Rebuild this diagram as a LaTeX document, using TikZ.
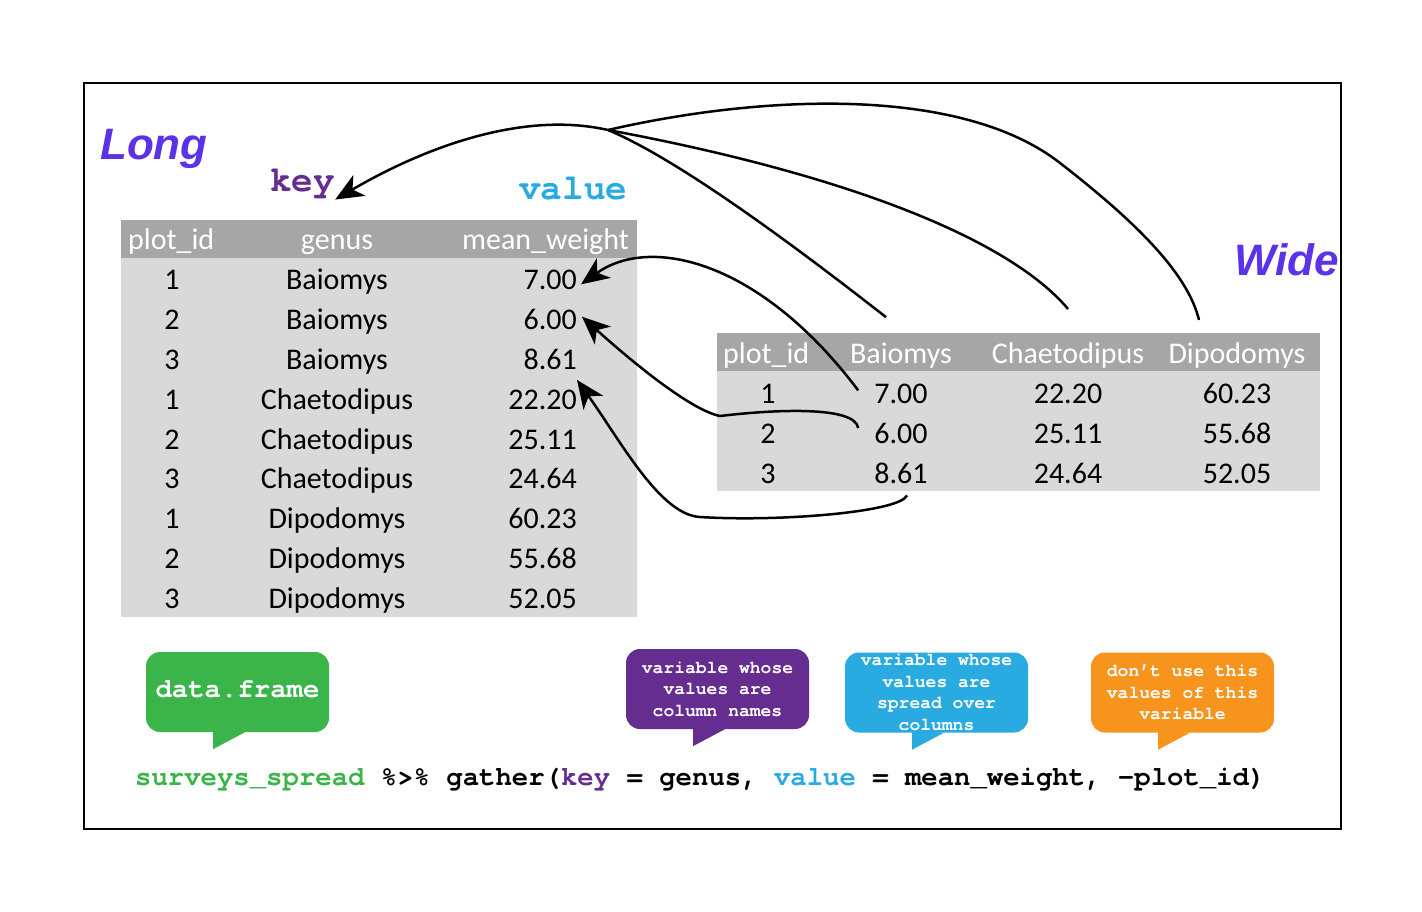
\documentclass[tikz,border=0pt]{standalone}
\usepackage{fontspec}
\setmainfont{Carlito}
\newfontfamily\arialfont{Liberation Sans}
\newfontfamily\courfont{texgyrecursor}[Extension=.otf, UprightFont=*-regular, BoldFont=*-bold]
\usetikzlibrary{arrows.meta}
\definecolor{titlepurple}{RGB}{91,50,232}
\definecolor{keypurple}{RGB}{102,45,145}
\definecolor{valueblue}{RGB}{41,171,226}
\definecolor{dfgreen}{RGB}{59,181,74}
\definecolor{droporange}{RGB}{247,148,29}
\definecolor{headgray}{RGB}{166,166,166}
\definecolor{bodygray}{RGB}{217,217,217}

\begin{document}
\begin{tikzpicture}[x=1pt, y=-1pt,
    >={Stealth[length=28pt,width=24pt,inset=8pt]},
    cell/.style={inner sep=0, anchor=base, font=\fontsize{30}{36}\selectfont},
    headcell/.style={cell, text=white},
    bigname/.style={inner sep=0, anchor=base west, text=titlepurple, font=\arialfont\bfseries\itshape\fontsize{44}{52}\selectfont},
    codeword/.style={inner sep=0, anchor=base west, font=\courfont\bfseries\fontsize{36}{40}\selectfont},
    bubble/.style={fill=#1, text=white, rounded corners=14pt, minimum width=183pt, minimum height=80pt, inner sep=0, align=center, font=\courfont\bfseries\fontsize{18}{21.5}\selectfont},
    link/.style={line width=2.5pt}]
        \useasboundingbox (0,0) rectangle (1422,912);
        \draw[line width=2pt] (84,83) rectangle (1341,829);
        % the two tables
        \fill[headgray] (121,220) rectangle (637,258);
        \fill[bodygray] (121,258) rectangle (637,617);
        \fill[headgray] (717,333) rectangle (1320,371);
        \fill[bodygray] (717,371) rectangle (1320,491);
        \node[bigname] (long) at (100,160) {Long};
        \node[bigname] (wide) at (1234,276) {Wide};
        \node[codeword, text=keypurple] (key) at (270,192) {key};
        \node[codeword, text=valueblue] (value) at (519,200) {value};
        % long table
        \node[headcell, anchor=base west] (lhp) at (128,250) {plot\_id};
        \node[headcell] (lhg) at (337,250) {genus};
        \node[headcell, anchor=base east] (lhv) at (629,250) {mean\_weight};
        \foreach \p/\g/\v [count=\i] in {1/Baiomys/7.00, 2/Baiomys/6.00, 3/Baiomys/8.61, 1/Chaetodipus/22.20, 2/Chaetodipus/25.11, 3/Chaetodipus/24.64, 1/Dipodomys/60.23, 2/Dipodomys/55.68, 3/Dipodomys/52.05} {
          \node[cell] (lp\i) at (172, {290+39.75*(\i-1)}) {\p};
          \node[cell] (lg\i) at (337, {290+39.75*(\i-1)}) {\g};
          \node[cell, anchor=base east] (lv\i) at (577, {290+39.75*(\i-1)}) {\v};
        }
        % wide table
        \node[headcell, anchor=base west] (whp) at (723,363) {plot\_id};
        \node[headcell] (whb) at (901,363) {Baiomys};
        \node[headcell] (whc) at (1068,363) {Chaetodipus};
        \node[headcell] (whd) at (1237,363) {Dipodomys};
        \foreach \b/\c/\d [count=\i] in {7.00/22.20/60.23, 6.00/25.11/55.68, 8.61/24.64/52.05} {
          \node[cell] (wp\i) at (768, {363+40*\i}) {\i};
          \node[cell] (wb\i) at (901, {363+40*\i}) {\b};
          \node[cell] (wc\i) at (1068, {363+40*\i}) {\c};
          \node[cell] (wd\i) at (1237, {363+40*\i}) {\d};
        }
        % column names go to key
        \coordinate (hub) at (608,130);
        \draw[link, ->] (hub) .. controls (520,110) and (420,150) .. (key.south east);
        \draw[link] ([shift={(-15,-25)}]whb.north) .. controls (800,250) and (680,160) .. (hub);
        \draw[link] ([shift={(0,-33)}]whc.north) .. controls (1010,240) and (850,175) .. (hub);
        \draw[link] ([shift={(-38,-22)}]whd.north) .. controls (1188,275) and (1140,225) .. (1060,163) .. controls (960,85) and (760,95) .. (hub);
        % cells go to value
        \draw[link, ->] ([shift={(-16,-3)}]wb1.west) .. controls (760,260) and (650,235) .. ([shift={(4,4)}]lv1.east);
        \draw[link, ->] ([shift={(-16,-5)}]wb2.west) .. controls (855,405) and (770,410) .. (720,416) .. controls (690,410) and (630,360) .. ([shift={(5,-3)}]lv2.east);
        \draw[link, ->] ([shift={(6,12)}]wb3.south) .. controls (900,512) and (780,522) .. (700,517) .. controls (660,515) and (620,440) .. ([shift={(0,10)}]lv3.south east);
        % callouts
        \node[bubble=dfgreen, font=\courfont\bfseries\fontsize{27.3}{30}\selectfont] (df) at (237.5,692) {\raisebox{6pt}{data.frame}};
        \node[bubble=keypurple] (kb) at (717.5,689) {variable whose\\values are\\column names};
        \node[bubble=valueblue] (vb) at (936.5,692.5) {variable whose\\values are\\spread over\\columns};
        \node[bubble=droporange] (ob) at (1182.5,692.5) {don’t use this\\values of this\\variable};
        \foreach \b/\c in {df/dfgreen, kb/keypurple, vb/valueblue, ob/droporange}
          \fill[\c] (\b.south) ++(-24.5,-2) -- ++(0,19) -- ++(32,-17) -- cycle;
        \node[inner sep=0, anchor=base west, font=\courfont\bfseries\fontsize{27.3}{30}\selectfont] (call) at (135,785) {\textcolor{dfgreen}{surveys\_spread} \%>\% gather(\textcolor{keypurple}{key} = genus, \textcolor{valueblue}{value} = mean\_weight, -plot\_id)};
      \end{tikzpicture}
\end{document}
